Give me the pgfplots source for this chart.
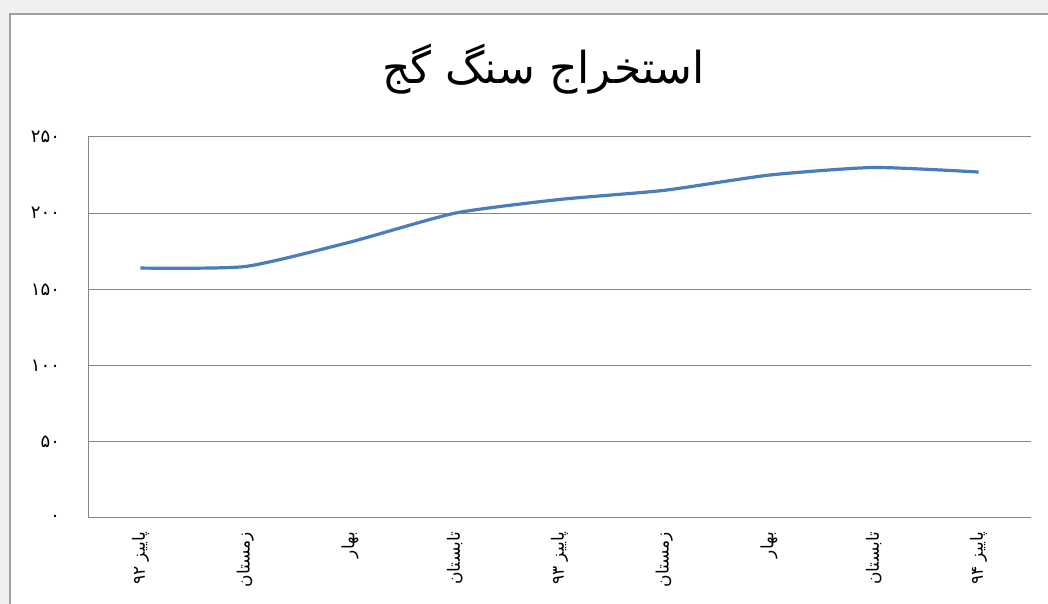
\documentclass[border=0pt]{standalone}
\usepackage{fontspec}
\usepackage{pgfplots}
\pgfplotsset{compat=1.18}
\TeXXeTstate=1
\newfontfamily\arabicfont[Script=Arabic]{DejaVu Sans}
\definecolor{seriesblue}{RGB}{74,126,187}
\definecolor{gridgray}{RGB}{134,134,134}
\definecolor{framegray}{RGB}{160,160,160}
\begin{document}
\begin{tikzpicture}
% background and chart frame (1 px = 0.5pt)
\fill[gray!12] (0pt,0pt) rectangle (524pt,302pt);
\fill[white] (4.5pt,0pt) rectangle (524pt,295.5pt);
\draw[framegray, line width=1pt] (5pt,0pt) -- (5pt,295pt) -- (524pt,295pt);
\begin{axis}[
    at={(44pt,43pt)}, anchor=south west,
    scale only axis,
    width=471.5pt, height=190.5pt,
    xmin=-0.5, xmax=8.5,
    ymin=0, ymax=250,
    xtick={0,...,8},
    xticklabels={
      {\arabicfont\beginR پاییز \beginL۹۲\endL\endR},
      {\arabicfont\beginR زمستان\endR},
      {\arabicfont\beginR بهار\endR},
      {\arabicfont\beginR تابستان\endR},
      {\arabicfont\beginR پاییز \beginL۹۳\endL\endR},
      {\arabicfont\beginR زمستان\endR},
      {\arabicfont\beginR بهار\endR},
      {\arabicfont\beginR تابستان\endR},
      {\arabicfont\beginR پاییز \beginL۹۴\endL\endR}},
    ytick={0,50,100,150,200,250},
    yticklabels={{\arabicfont ۰},{\arabicfont ۵۰},{\arabicfont ۱۰۰},{\arabicfont ۱۵۰},{\arabicfont ۲۰۰},{\arabicfont ۲۵۰}},
    xticklabel style={rotate=90, anchor=east, font=\fontsize{8.5}{10}\selectfont},
    xticklabel shift=3.5pt,
    yticklabel style={font=\fontsize{9}{10}\selectfont},
    yticklabel shift=10.5pt,
    major tick length=0pt,
    ymajorgrids,
    grid style={gridgray, line width=0.5pt},
    axis x line*=bottom,
    axis y line*=left,
    axis line style={gridgray, line width=0.5pt, -},
    title={\fontsize{22}{25}\selectfont\arabicfont\beginR استخراج سنگ گج\endR},
    title style={at={(0.483,1)}, anchor=center, yshift=28pt},
    clip=false,
]
\addplot[seriesblue, line width=1.6pt, smooth, tension=0.35] coordinates {
  (0,164) (1,165) (2,181) (3,200) (4,209) (5,215) (6,225) (7,230) (8,227)
};
\end{axis}
\pgfresetboundingbox
\path (0pt,0pt) rectangle (524pt,302pt);
\end{tikzpicture}
\end{document}
